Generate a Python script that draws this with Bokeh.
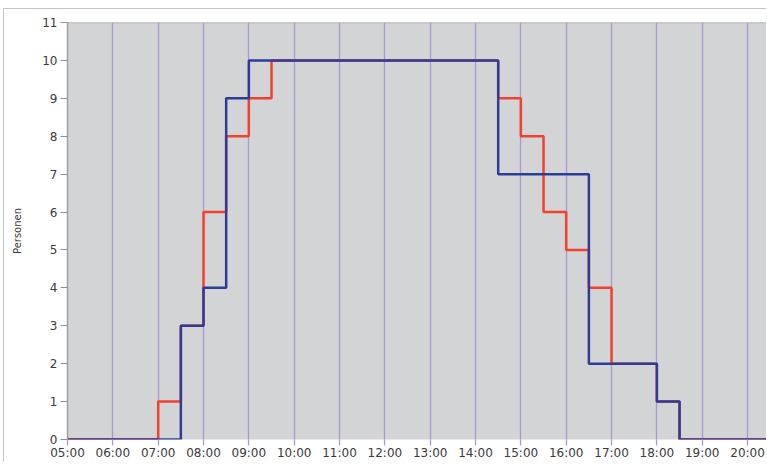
from bokeh.plotting import figure
from bokeh.embed import file_html
from bokeh.resources import INLINE
from bokeh.models import FixedTicker, Span, Range1d

# ---- data (hours of day, persons) ----
red_times = [5, 7, 7.5, 8, 8.5, 9, 9.5, 14.5, 15, 15.5, 16, 16.5, 17, 18, 18.5, 21]
red_values = [0, 1, 3, 6, 8, 9, 10, 9, 8, 6, 5, 4, 2, 1, 0, 0]
blue_times = [5, 7.5, 8, 8.5, 9, 14.5, 16.5, 18, 18.5, 21]
blue_values = [0, 3, 4, 9, 10, 7, 2, 1, 0, 0]
hour_ticks = list(range(5, 21))
hour_labels = ["05:00", "06:00", "07:00", "08:00", "09:00", "10:00", "11:00", "12:00",
               "13:00", "14:00", "15:00", "16:00", "17:00", "18:00", "19:00", "20:00"]
y_ticks = list(range(0, 12))

p = figure(width=763, height=453, output_backend="svg", toolbar_location=None,
           x_range=Range1d(5, 20.44), y_range=Range1d(0, 11),
           min_border_left=63, min_border_right=0, min_border_top=13, min_border_bottom=0)
p.margin = (8, 0, 0, 3)
p.styles = {"border-top": "1px solid #c4c4c4", "border-left": "1px solid #c4c4c4"}

p.background_fill_color = "#d3d4d6"
p.border_fill_color = "white"
p.outline_line_color = None

# grid
p.ygrid.grid_line_color = None
p.xgrid.ticker = FixedTicker(ticks=hour_ticks)
p.xgrid.grid_line_color = "#a89ad0"
p.xgrid.grid_line_width = 1.3

# x axis
p.xaxis.ticker = FixedTicker(ticks=hour_ticks)
p.xaxis.major_label_overrides = {t: l for t, l in zip(hour_ticks, hour_labels)}
p.xaxis.axis_line_color = None
p.xaxis.major_tick_line_color = "#a89ad0"
p.xaxis.major_tick_line_width = 1.3
p.xaxis.major_tick_out = 6
p.xaxis.major_tick_in = 0
p.xaxis.minor_tick_line_color = None
p.xaxis.major_label_standoff = 0
p.xaxis.major_label_text_font = "DejaVu Sans"
p.xaxis.major_label_text_font_size = "12px"
p.xaxis.major_label_text_color = "#3a3a3a"

# y axis
p.yaxis.ticker = FixedTicker(ticks=y_ticks)
p.yaxis.axis_line_color = "#a0a0a0"
p.yaxis.axis_line_width = 1.5
p.yaxis.major_tick_line_color = "#909090"
p.yaxis.major_tick_out = 7
p.yaxis.major_tick_in = 0
p.yaxis.minor_tick_line_color = None
p.yaxis.major_label_standoff = 3
p.yaxis.major_label_text_font = "DejaVu Sans"
p.yaxis.major_label_text_font_size = "12px"
p.yaxis.major_label_text_color = "#3a3a3a"
p.yaxis.axis_label = "Personen"
p.yaxis.axis_label_text_font = "DejaVu Sans"
p.yaxis.axis_label_text_font_size = "10px"
p.yaxis.axis_label_text_font_style = "normal"
p.yaxis.axis_label_text_color = "#3a3a3a"
p.yaxis.axis_label_standoff = 16

# top border of the plot area
p.add_layout(Span(location=11, dimension="width", line_color="#a8a8a8", line_width=1.5))

# series
p.step(red_times, red_values, mode="after", line_color="#f2402f", line_width=2.5)
p.step(blue_times, blue_values, mode="after", line_color="#2e3c98", line_width=2.5)

open("out.html", "w").write(file_html(p, INLINE))
